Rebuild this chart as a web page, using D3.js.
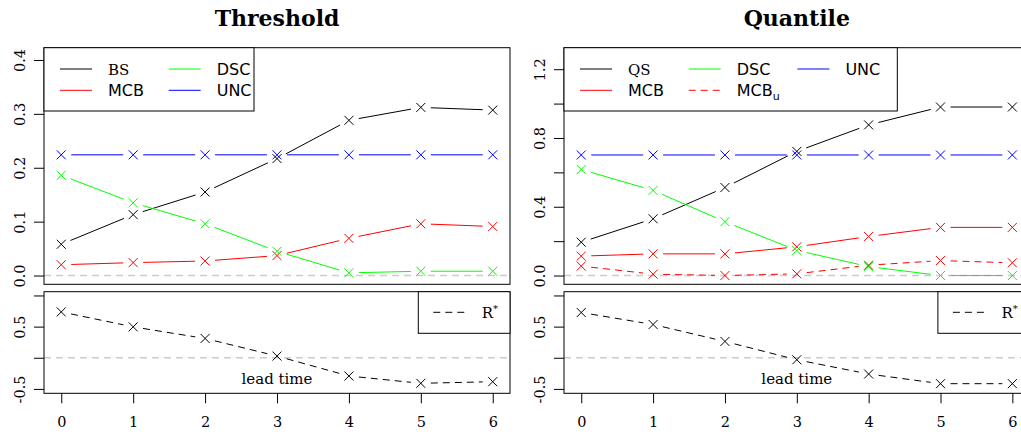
<!DOCTYPE html>
<html><head><meta charset="utf-8">
<script src="https://cdn.jsdelivr.net/npm/d3@7"></script>
<style>body{margin:0;background:#fff}</style>
</head><body><svg id="c" width="1021" height="434"></svg>
<script>
// ---------- data ----------
const leadTimes = [0, 1, 2, 3, 4, 5, 6];

const thrBS  = [0.058, 0.113, 0.155, 0.217, 0.288, 0.312, 0.307];
const thrMCB = [0.020, 0.024, 0.027, 0.037, 0.069, 0.096, 0.091];
const thrDSC = [0.186, 0.135, 0.096, 0.045, 0.005, 0.008, 0.008];
const thrUNC = [0.224, 0.224, 0.224, 0.224, 0.224, 0.224, 0.224];
const thrR   = [0.736, 0.496, 0.310, 0.027, -0.293, -0.410, -0.384];

const quaQS   = [0.194, 0.330, 0.512, 0.722, 0.876, 0.980, 0.980];
const quaMCB  = [0.113, 0.126, 0.126, 0.167, 0.227, 0.280, 0.280];
const quaMCBu = [0.055, 0.008, 0.000, 0.010, 0.060, 0.087, 0.074];
const quaDSC  = [0.617, 0.495, 0.313, 0.146, 0.052, 0.000, 0.000];
const quaUNC  = [0.701, 0.701, 0.701, 0.701, 0.701, 0.701, 0.701];
const quaR    = [0.726, 0.534, 0.262, -0.032, -0.261, -0.416, -0.416];

const thrTicks = [0, 0.1, 0.2, 0.3, 0.4];
const thrTickLabels = ["0.0", "0.1", "0.2", "0.3", "0.4"];
const quaTicks = [0, 0.2, 0.4, 0.6, 0.8, 1.0, 1.2];
const quaTickLabels = ["0.0", "", "0.4", "", "0.8", "", "1.2"];
const rTicks = [-0.5, 0, 0.5, 1.0];
const rTickLabels = ["-0.5", "", "0.5", ""];

// ---------- drawing ----------
const svg = d3.select("#c");
const SERIF = "'DejaVu Serif', serif";
const SANS = "'DejaVu Sans', sans-serif";
const GAP = 10;

function pad(lim) { const r = lim[1] - lim[0]; return [lim[0] - 0.04 * r, lim[1] + 0.04 * r]; }

function series(g, x, y, vals, color, dash) {
  const pts = leadTimes.map((t, i) => [x(t), y(vals[i])]);
  for (let i = 0; i < pts.length - 1; i++) {
    const [x0, y0] = pts[i], [x1, y1] = pts[i + 1];
    const dx = x1 - x0, dy = y1 - y0, L = Math.hypot(dx, dy);
    if (L <= 2 * GAP) continue;
    const ux = dx / L, uy = dy / L;
    g.append("line")
      .attr("x1", x0 + ux * GAP).attr("y1", y0 + uy * GAP)
      .attr("x2", x1 - ux * GAP).attr("y2", y1 - uy * GAP)
      .attr("stroke", color).attr("stroke-width", 1)
      .attr("stroke-dasharray", dash ? "7,5" : null);
  }
  const s = 4.5;
  pts.forEach(([px, py]) => {
    g.append("path")
      .attr("d", `M${px - s},${py - s}L${px + s},${py + s}M${px - s},${py + s}L${px + s},${py - s}`)
      .attr("stroke", color).attr("stroke-width", 1).attr("fill", "none");
  });
}

function yAxis(g, y, x0, ticks, labels) {
  const ax = d3.axisLeft(y).tickValues(ticks).tickSize(10).tickSizeOuter(0)
    .tickFormat((d, i) => labels[i]);
  const a = g.append("g").attr("transform", `translate(${x0},0)`).call(ax);
  a.select(".domain").remove();
  a.selectAll("line").attr("stroke", "#000");
  a.selectAll("text")
    .attr("transform", "rotate(-90)")
    .attr("x", 0).attr("y", -19).attr("dy", 0)
    .attr("text-anchor", "middle")
    .attr("font-family", SERIF).attr("font-size", 14.5).attr("fill", "#000");
}

function xAxis(g, x, y0) {
  const ax = d3.axisBottom(x).tickValues(leadTimes).tickSize(10).tickSizeOuter(0)
    .tickFormat(d3.format("d"));
  const a = g.append("g").attr("transform", `translate(0,${y0})`).call(ax);
  a.select(".domain").remove();
  a.selectAll("line").attr("stroke", "#000");
  a.selectAll("text").attr("y", 34).attr("dy", 0)
    .attr("font-family", SERIF).attr("font-size", 14.5).attr("fill", "#000");
}

function box(g, x0, x1, y0, y1) {
  g.append("rect").attr("x", x0).attr("y", y0).attr("width", x1 - x0).attr("height", y1 - y0)
    .attr("fill", "none").attr("stroke", "#000").attr("stroke-width", 1);
}

function refLine(g, x0, x1, yv) {
  g.append("line").attr("x1", x0).attr("x2", x1).attr("y1", yv).attr("y2", yv)
    .attr("stroke", "#cccccc").attr("stroke-width", 1.5).attr("stroke-dasharray", "7,5");
}

function legendEntry(g, lx, ly, color, dash, label, font) {
  g.append("line").attr("x1", lx).attr("x2", lx + 32).attr("y1", ly).attr("y2", ly)
    .attr("stroke", color).attr("stroke-width", 1).attr("stroke-dasharray", dash ? "7,5" : null);
  const t = g.append("text").attr("x", lx + 48).attr("y", ly + 5.5)
    .attr("font-family", font).attr("font-size", font === SERIF ? 15 : 16).attr("fill", "#000");
  if (Array.isArray(label)) {
    t.append("tspan").text(label[0]);
    t.append("tspan").attr("font-size", 11).attr("dy", label[2]).text(label[1]);
  } else t.text(label);
}

function drawPanel(p) {
  const g = svg.append("g");
  const TOP0 = 47.7, TOP1 = 284.3, BOT0 = 291.7, BOT1 = 393.3;
  const x = d3.scaleLinear().domain([-0.24, 6.24]).range([p.xl, p.xr]);
  const yT = d3.scaleLinear().domain(pad(p.ylim)).range([TOP1, TOP0]);
  const yB = d3.scaleLinear().domain(pad([-0.51, 1.0])).range([BOT1, BOT0]);

  g.append("text").attr("x", (p.xl + p.xr) / 2).attr("y", 26)
    .attr("text-anchor", "middle").attr("font-family", SERIF)
    .attr("font-weight", "bold").attr("font-size", 22).text(p.title);

  // top panel
  refLine(g, p.xl, p.xr, yT(0));
  yAxis(g, yT, p.xl, p.ticks, p.tickLabels);
  p.series.forEach(s => series(g, x, yT, s.v, s.c, s.d));
  box(g, p.xl, p.xr, TOP0, TOP1);

  // legend
  const lw = p.legendW;
  g.append("rect").attr("x", p.xl).attr("y", TOP0).attr("width", lw).attr("height", 111 - TOP0)
    .attr("fill", "#fff").attr("stroke", "#000");
  p.legend.forEach((e, i) => {
    const col = Math.floor(i / 2), row = i % 2;
    legendEntry(g, p.xl + 16 + col * 108.7, 69 + row * 21.3, e.c, e.d, e.label, e.f);
  });

  // bottom panel
  refLine(g, p.xl, p.xr, yB(0));
  yAxis(g, yB, p.xl, rTicks, rTickLabels);
  xAxis(g, x, BOT1);
  series(g, x, yB, p.r, "#000", true);
  g.append("text").attr("x", (p.xl + p.xr) / 2).attr("y", 383.5)
    .attr("text-anchor", "middle").attr("font-family", SERIF).attr("font-size", 15).text("lead time");
  box(g, p.xl, p.xr, BOT0, BOT1);
  const rx = p.xr - 91.7;
  g.append("rect").attr("x", rx).attr("y", BOT0).attr("width", 91.7).attr("height", 333.3 - BOT0)
    .attr("fill", "#fff").attr("stroke", "#000");
  g.append("line").attr("x1", rx + 15).attr("x2", rx + 48.5).attr("y1", 312.3).attr("y2", 312.3)
    .attr("stroke", "#000").attr("stroke-dasharray", "7,5");
  const rt = g.append("text").attr("x", rx + 63.5).attr("y", 318)
    .attr("font-family", SERIF).attr("font-size", 15);
  rt.append("tspan").text("R");
  rt.append("tspan").attr("font-size", 10).attr("dy", -6).text("*");
}

drawPanel({
  title: "Threshold", xl: 44, xr: 510, ylim: [0, 0.4065],
  ticks: thrTicks, tickLabels: thrTickLabels, legendW: 210, r: thrR,
  series: [
    { v: thrBS, c: "#000" }, { v: thrMCB, c: "#ff0000" },
    { v: thrDSC, c: "#00ff00" }, { v: thrUNC, c: "#0000ff" }
  ],
  legend: [
    { label: "BS", c: "#000", f: SERIF }, { label: "MCB", c: "#ff0000", f: SANS },
    { label: "DSC", c: "#00ff00", f: SANS }, { label: "UNC", c: "#0000ff", f: SANS }
  ]
});

drawPanel({
  title: "Quantile", xl: 564, xr: 1029.6, ylim: [0, 1.274],
  ticks: quaTicks, tickLabels: quaTickLabels, legendW: 333.3, r: quaR,
  series: [
    { v: quaQS, c: "#000" }, { v: quaMCB, c: "#ff0000" }, { v: quaMCBu, c: "#ff0000", d: true },
    { v: quaDSC, c: "#00ff00" }, { v: quaUNC, c: "#0000ff" }
  ],
  legend: [
    { label: "QS", c: "#000", f: SERIF }, { label: "MCB", c: "#ff0000", f: SANS },
    { label: "DSC", c: "#00ff00", f: SANS }, { label: ["MCB", "u", 4], c: "#ff0000", d: true, f: SANS },
    { label: "UNC", c: "#0000ff", f: SANS }
  ]
});
</script></body></html>
